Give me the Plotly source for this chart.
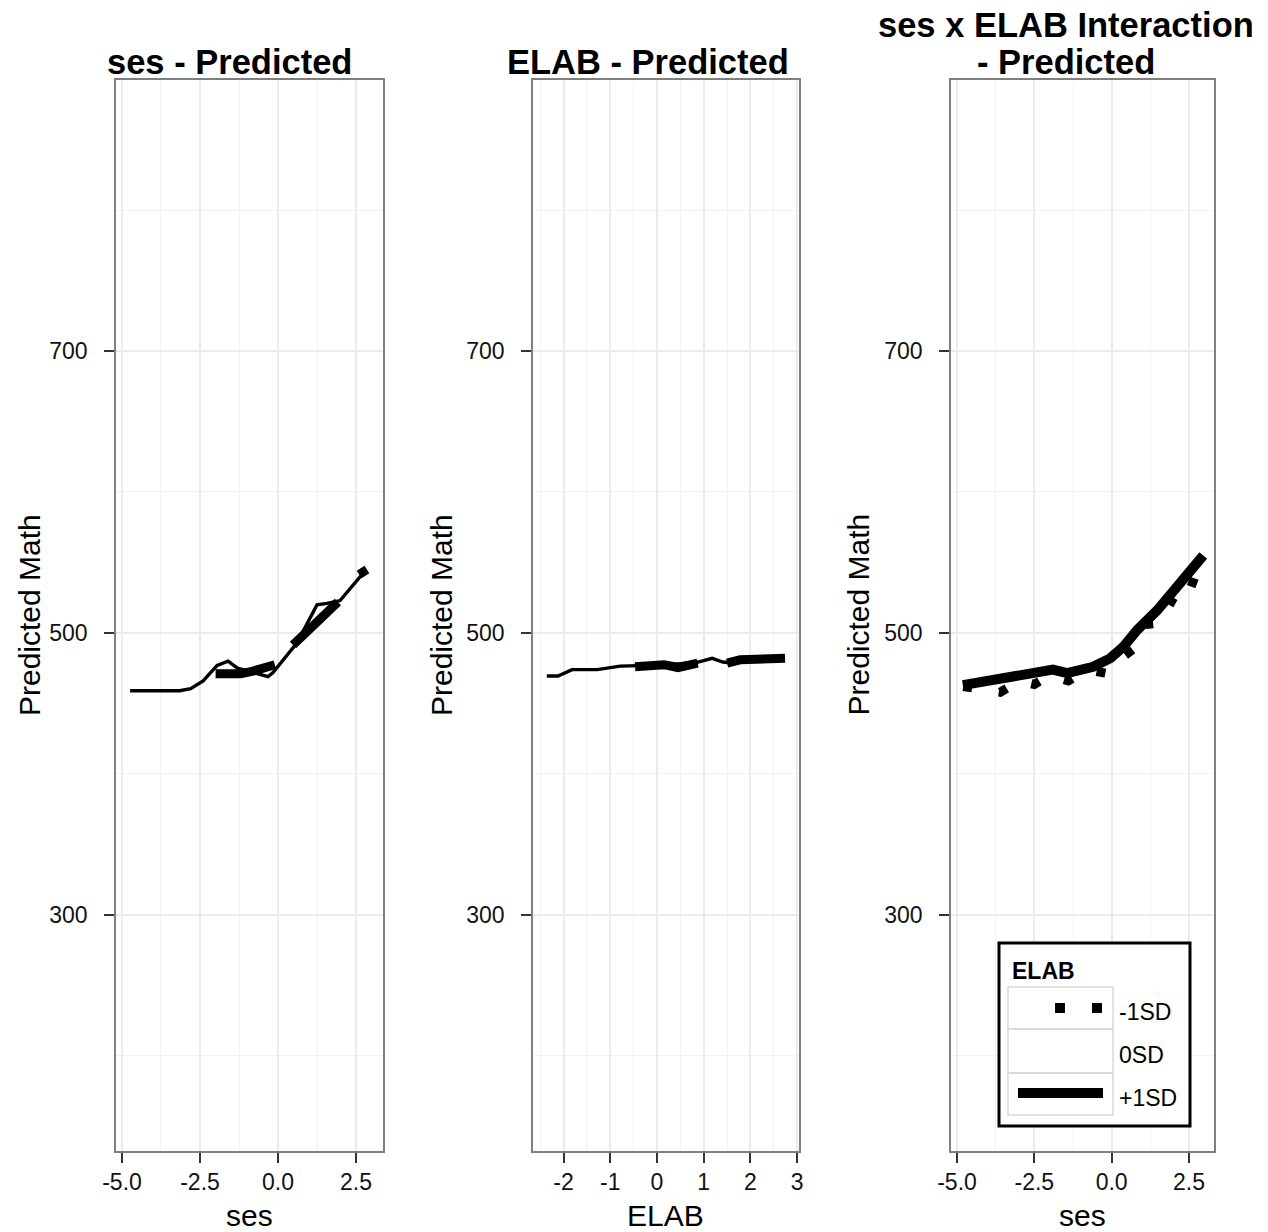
import plotly.graph_objects as go

W, H = 1268, 1232
FONT = "Liberation Sans, Arial, sans-serif"

# ---------------- data ----------------
# Panel 1: ses - Predicted
ses_thin_x = [-4.74, -3.15, -2.8, -2.4, -1.95, -1.6, -1.3, -0.32, -0.16, 0.61, 1.25, 1.57, 1.99, 2.79]
ses_thin_y = [459, 459, 460.5, 466, 477, 480, 475, 469, 472, 493, 520, 521, 523, 544]
ses_thick_x = [-2.0, -1.2, -0.8, -0.1, None, 0.48, 1.25, 1.92, None, 2.6, 2.85]
ses_thick_y = [471, 471, 473, 477.5, None, 491.5, 509, 522, None, 541.5, 545]

# Panel 2: ELAB - Predicted
elab_thin_x = [-2.36, -2.12, -1.82, -1.28, -0.79, -0.3, 0.3, 0.88, 1.18, 1.41, 1.6, 2.2, 2.74]
elab_thin_y = [469.5, 469.5, 474, 474, 476.5, 477, 477.5, 479.4, 482, 479.4, 478.7, 481, 482]
elab_thick_x = [-0.47, 0.15, 0.45, 0.87, None, 1.5, 1.78, 2.74]
elab_thick_y = [476, 477.5, 475.5, 478.7, None, 478.7, 481, 482]

# Panel 3: ses x ELAB interaction
plus1_x = [-4.81, -3.61, -2.54, -1.9, -1.44, -0.6, -0.05, 0.37, 0.82, 1.47, 2.12, 2.96]
plus1_y = [463, 468, 471, 474, 471.6, 476, 482, 490, 502, 516, 533, 555]
minus1_x = [-4.8, -3.6, -3.0, -2.5, -2.0, -1.4, -0.8, -0.2, 0.3, 0.7, 1.1, 1.55, 2.0, 2.4, 2.9]
minus1_y = [462, 458, 466, 463.5, 470, 466, 474, 471.5, 482, 488.5, 506, 507, 525, 523, 552]

legend_labels = ["-1SD", "0SD", "+1SD"]

y_ticks = [300, 500, 700]
ses_ticks = [-5.0, -2.5, 0.0, 2.5]
ses_ticklabels = ["-5.0", "-2.5", "0.0", "2.5"]
elab_ticks = [-2, -1, 0, 1, 2, 3]
elab_ticklabels = ["-2", "-1", "0", "1", "2", "3"]

# ---------------- figure ----------------
def px_x(p):
    return p / W

def px_y(p):
    return 1 - p / H

fig = go.Figure()
blk = "black"
fig.add_trace(go.Scatter(x=ses_thin_x, y=ses_thin_y, mode="lines", line=dict(color=blk, width=3.4),
                         xaxis="x", yaxis="y", showlegend=False))
fig.add_trace(go.Scatter(x=ses_thick_x, y=ses_thick_y, mode="lines", line=dict(color=blk, width=9),
                         connectgaps=False, xaxis="x", yaxis="y", showlegend=False))
fig.add_trace(go.Scatter(x=elab_thin_x, y=elab_thin_y, mode="lines", line=dict(color=blk, width=3.4),
                         xaxis="x2", yaxis="y2", showlegend=False))
fig.add_trace(go.Scatter(x=elab_thick_x, y=elab_thick_y, mode="lines", line=dict(color=blk, width=9),
                         connectgaps=False, xaxis="x2", yaxis="y2", showlegend=False))
fig.add_trace(go.Scatter(x=plus1_x, y=plus1_y, mode="lines", name="+1SD",
                         line=dict(color=blk, width=10), xaxis="x3", yaxis="y3", showlegend=False))
fig.add_trace(go.Scatter(x=minus1_x, y=minus1_y, mode="lines", name="-1SD",
                         line=dict(color=blk, width=9, dash="9px,27px"), xaxis="x3", yaxis="y3",
                         showlegend=False))

ydom = [px_y(1151), px_y(80)]
common = dict(showline=True, mirror=True, linecolor="#7f7f7f", linewidth=1.5,
              ticks="outside", ticklen=10, tickwidth=2, tickcolor="#333333",
              showgrid=True, gridcolor="#ebebeb", gridwidth=2, zeroline=False, automargin=False,
              tickfont=dict(family=FONT, size=23, color="#111111"))

yax = dict(common, range=[132.6, 892.2], tickvals=y_ticks, ticktext=[str(v) for v in y_ticks],
           domain=ydom, minor=dict(showgrid=True, dtick=200, tick0=200, gridcolor="#f2f2f2", gridwidth=1.2),
           ticklabelstandoff=12)
ses_minor = dict(showgrid=True, dtick=2.5, tick0=-3.75, gridcolor="#f2f2f2", gridwidth=1.2)

fig.update_layout(
    width=W, height=H, margin=dict(l=0, r=0, t=0, b=0, autoexpand=False),
    paper_bgcolor="white", plot_bgcolor="white", showlegend=False,
    xaxis=dict(common, domain=[px_x(116), px_x(383)], range=[-5.192, 3.365], anchor="y",
               tickvals=ses_ticks, ticktext=ses_ticklabels, minor=ses_minor),
    yaxis=dict(yax, anchor="x"),
    xaxis2=dict(common, domain=[px_x(533), px_x(799)], range=[-2.655, 3.04], anchor="y2",
                tickvals=elab_ticks, ticktext=elab_ticklabels,
                minor=dict(showgrid=True, dtick=1, tick0=-2.5, gridcolor="#f2f2f2", gridwidth=1.2)),
    yaxis2=dict(yax, anchor="x2"),
    xaxis3=dict(common, domain=[px_x(951), px_x(1214)], range=[-5.194, 3.308], anchor="y3",
                tickvals=ses_ticks, ticktext=ses_ticklabels, minor=ses_minor),
    yaxis3=dict(yax, anchor="x3"),
)

# text helper
def ann(text, x, y, size, xanchor="center", bold=False, angle=0):
    fig.add_annotation(text=f"<b>{text}</b>" if bold else text, x=px_x(x), y=px_y(y),
                       xref="paper", yref="paper", xanchor=xanchor, yanchor="middle",
                       textangle=angle, showarrow=False,
                       font=dict(family=FONT, size=size, color="black"))

# panel titles
ann("ses - Predicted", 229.5, 62, 34.5, bold=True)
ann("ELAB - Predicted", 648, 62, 34.5, bold=True)
ann("ses x ELAB Interaction", 1066, 25, 34.5, bold=True)
ann("- Predicted", 1066, 62, 34.5, bold=True)

# axis titles
ann("Predicted Math", 29, 615, 30, angle=-90)
ann("Predicted Math", 441, 615, 30, angle=-90)
ann("Predicted Math", 857.5, 615, 30, angle=-90)
ann("ses", (116 + 383) / 2, 1215.5, 30)
ann("ELAB", (533 + 799) / 2, 1215.5, 30)
ann("ses", (951 + 1214) / 2, 1215.5, 30)

# legend (panel 3)
def rect(x0, y0, x1, y1, color, width, fill=None):
    fig.add_shape(type="rect", xref="paper", yref="paper", x0=px_x(x0), x1=px_x(x1),
                  y0=px_y(y1), y1=px_y(y0), line=dict(color=color, width=width),
                  fillcolor=fill if fill else "rgba(0,0,0,0)", layer="above")

rect(999, 943, 1190, 1126, "black", 3, "white")
ann("ELAB", 1010, 971, 23, xanchor="left", bold=True)
rows = [(987, 1029), (1029, 1073), (1073, 1115)]
for (r0, r1), lab in zip(rows, legend_labels):
    rect(1008, r0, 1113, r1, "#d9d9d9", 1.5)
    ann(lab, 1117, (r0 + r1) / 2 + 4, 23, xanchor="left")
fig.add_shape(type="line", xref="paper", yref="paper", x0=px_x(1055), x1=px_x(1102),
              y0=px_y(1008), y1=px_y(1008), line=dict(color="black", width=10, dash="10px,27px"),
              layer="above")
fig.add_shape(type="line", xref="paper", yref="paper", x0=px_x(1018), x1=px_x(1103),
              y0=px_y(1093), y1=px_y(1093), line=dict(color="black", width=10), layer="above")

fig.write_html("out.html", config={"displayModeBar": False},
               post_script="document.body.style.margin='0';document.body.style.overflow='hidden';")
